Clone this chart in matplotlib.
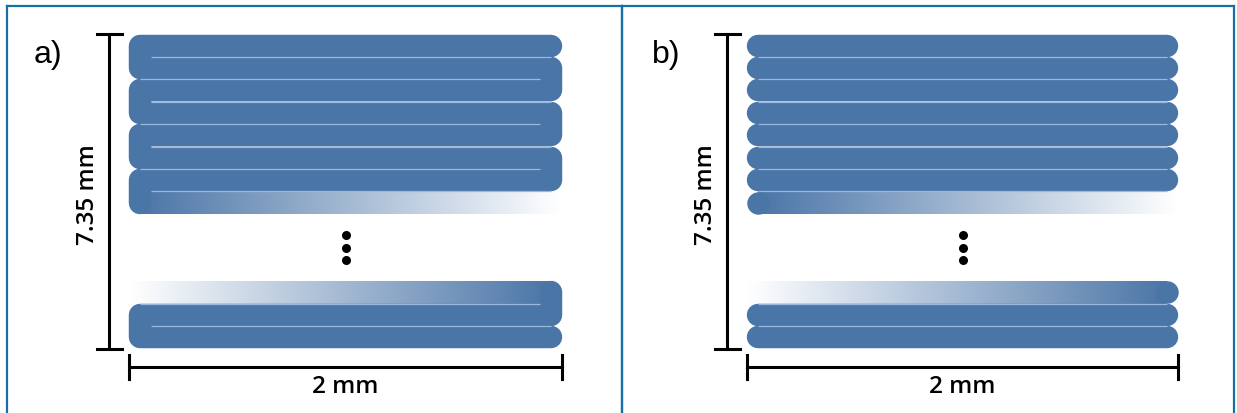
import numpy as np
import matplotlib
matplotlib.use('Agg')
import matplotlib.pyplot as plt
from matplotlib.colors import to_rgb

# data
panel_labels = ['a)', 'b)']
panel_styles = ['serpentine', 'lines']
scan_width_mm = 2.0
height_label = '7.35 mm'
width_label = '2 mm'
top_rows = [0, 1, 2, 3, 4, 5, 6, 7]      # last one fades out to the right
bottom_rows = [11, 12, 13]               # first one fades in from the left
dot_rows = [8.45, 9.0, 9.55]

# layout (pixels of the 1237x414 figure)
W, H = 1237, 414
FRAME_TOP = 7
panel_px = [(7, 622, 129, 216.5), (622, 1234, 747, 215.5)]   # left, right, scan start, px per mm
ROW0_PX = 46.5
PITCH_PX = 22.45

BLUE = '#4a75a7'
LIGHT = '#9ab9df'
FRAME = '#1a6ea6'
lw_scan = PITCH_PX * 72 / 100.0

plt.rcParams['font.family'] = ['Open Sans', 'DejaVu Sans']

fig = plt.figure(figsize=(W / 100, H / 100), dpi=100)


def gradient(ax, x0, x1, row, a0, a1):
    rgb = to_rgb(BLUE)
    img = np.zeros((1, 256, 4))
    img[0, :, :3] = rgb
    img[0, :, 3] = np.linspace(a0, a1, 256)
    ax.imshow(img, extent=[x0, x1, row + 0.5, row - 0.5], aspect='auto',
              interpolation='bilinear', zorder=2)


def sep(ax, x0, x1, row):
    ax.plot([x0, x1], [row + 0.5, row + 0.5], color=LIGHT, lw=0.9,
            solid_capstyle='butt', zorder=4)


for i, (lab, style) in enumerate(zip(panel_labels, panel_styles)):
    L, R, S, P = panel_px[i]
    ax = fig.add_axes([L / W, 0, (R - L) / W, (H - FRAME_TOP) / H])
    r = (PITCH_PX / 2) / P
    xs, xe = r, scan_width_mm - r

    if style == 'serpentine':
        # upper block: rows joined alternately on left/right
        xx, yy = [xe], [top_rows[0]]
        for k in top_rows[:-1]:
            side = xs if k % 2 == 0 else xe
            xx += [side, side]
            yy += [k, k + 1]
        ax.plot(xx, yy, color=BLUE, lw=lw_scan, solid_joinstyle='round',
                solid_capstyle='round', zorder=3)
        gradient(ax, xs, scan_width_mm, top_rows[-1], 1.0, 0.0)
        for k in top_rows[:-1]:
            if k % 2 == 0:
                sep(ax, xs + r, xe, k)
            else:
                sep(ax, xs, xe - r, k)
        # lower block
        b0, b1, b2 = bottom_rows
        ax.plot([xe, xe, xs, xs, xe], [b0, b1, b1, b2, b2], color=BLUE, lw=lw_scan,
                solid_joinstyle='round', solid_capstyle='round', zorder=3)
        gradient(ax, 0, xe, b0, 0.0, 1.0)
        sep(ax, xs, xe - r, b0)
        sep(ax, xs + r, xe, b1)
    else:
        for k in top_rows[:-1] + bottom_rows[1:]:
            ax.plot([xs, xe], [k, k], color=BLUE, lw=lw_scan,
                    solid_capstyle='round', zorder=3)
        k = top_rows[-1]
        ax.plot([xs], [k], 'o', ms=lw_scan, color=BLUE, mew=0, zorder=3)
        gradient(ax, xs, scan_width_mm, k, 1.0, 0.0)
        k = bottom_rows[0]
        ax.plot([xe], [k], 'o', ms=lw_scan, color=BLUE, mew=0, zorder=3)
        gradient(ax, 0, xe, k, 0.0, 1.0)
        for k in top_rows[:-1] + bottom_rows[:-1]:
            sep(ax, xs, xe, k)

    # continuation dots
    ax.plot([scan_width_mm / 2] * len(dot_rows), dot_rows, 'o', color='black',
            ms=6.5, mew=0, zorder=5)

    # vertical dimension
    vx = -20 / P
    tk = 12.5 / P
    y_top, y_bot = top_rows[0] - 0.5, bottom_rows[-1] + 0.5
    ax.plot([vx, vx], [y_top, y_bot], color='black', lw=2.2, zorder=5)
    ax.plot([vx - tk, vx + tk], [y_top, y_top], color='black', lw=2.2, zorder=5)
    ax.plot([vx - tk, vx + tk], [y_bot, y_bot], color='black', lw=2.2, zorder=5)
    ax.text(-41 / P, 6.6, height_label, rotation=90, ha='center', va='center',
            fontsize=17.5, fontweight='semibold', color='black')

    # horizontal dimension
    hy = 14.32
    ax.plot([0, scan_width_mm], [hy, hy], color='black', lw=2.2, zorder=5)
    for xv in [0, scan_width_mm]:
        ax.plot([xv, xv], [hy - 0.55, hy + 0.55], color='black', lw=2.2, zorder=5)
    ax.text(scan_width_mm / 2, 15.15, width_label, ha='center', va='center',
            fontsize=17.5, fontweight='semibold', color='black')

    # panel label
    ax.text(-95 / P, 0.73, lab, ha='left', va='baseline', fontsize=23,
            family=['Liberation Sans', 'DejaVu Sans'])

    ax.set_xlim((L - S) / P, (R - S) / P)
    ax.set_ylim((H - ROW0_PX) / PITCH_PX, (FRAME_TOP - ROW0_PX) / PITCH_PX)
    ax.set_xticks([])
    ax.set_yticks([])
    for side in ['left', 'right', 'top']:
        ax.spines[side].set_color(FRAME)
        ax.spines[side].set_linewidth(1.6)
    ax.spines['bottom'].set_visible(False)
    ax.patch.set_alpha(0)

fig.savefig('out.png', dpi=100)
